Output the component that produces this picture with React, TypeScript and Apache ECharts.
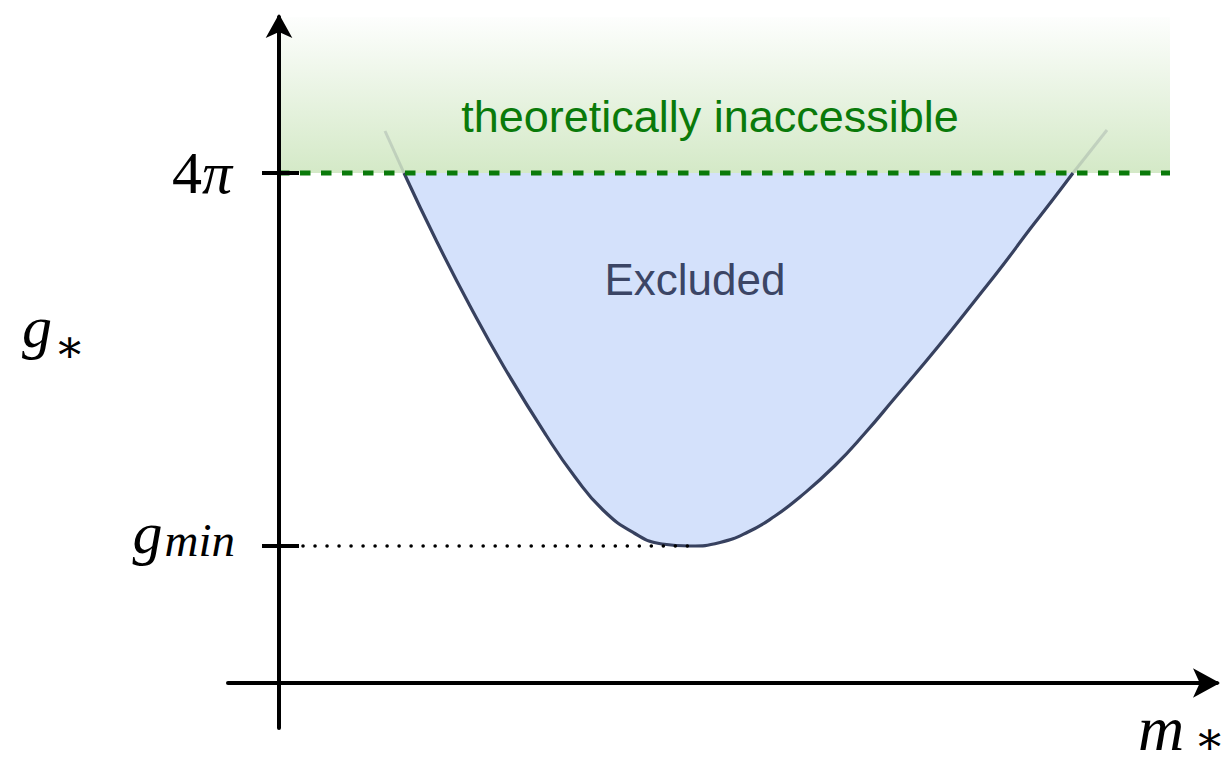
import { useEffect, useRef } from 'react';
import * as echarts from 'echarts';

// Axis extents, in arbitrary units of m_* (x) and g_* (y)
const X_MIN = -0.51;
const X_MAX = 9.38;
const Y_MIN = -0.45;
const Y_MAX = 6.66;

// Perturbative limit 4π, the smallest excluded coupling and where it sits
const G_4PI = 5.1;
const G_MIN = 1.37;
const M_AT_G_MIN = 4.11;
const BAND_END = 8.91;

const TICK_VALUES = [G_4PI, G_MIN];

// Exclusion boundary g_*(m_*) between the two crossings of 4π
const BOUNDARY_M = [1.25, 1.58, 1.91, 2.25, 2.67, 2.96, 3.24, 3.55, 3.83, 4.11, 4.41, 4.69, 4.96, 5.21, 5.56, 5.87, 6.15, 6.43, 6.71, 6.98, 7.24, 7.51, 7.72, 7.94];
const BOUNDARY_G = [5.1, 4.41, 3.77, 3.16, 2.48, 2.06, 1.73, 1.5, 1.39, 1.37, 1.405, 1.51, 1.67, 1.86, 2.175, 2.51, 2.84, 3.17, 3.51, 3.85, 4.18, 4.54, 4.81, 5.1];

// Faint continuation of the boundary above 4π
const LEFT_TAIL_M = [1.06, 1.25];
const LEFT_TAIL_G = [5.52, 5.1];
const RIGHT_TAIL_M = [7.94, 8.28];
const RIGHT_TAIL_G = [5.1, 5.53];

const zip = (xs: number[], ys: number[]) => xs.map((x, i) => [x, ys[i]]);

const MATH_FONT = '"Liberation Serif", "Times New Roman", serif';
const STAR_FONT = '"DejaVu Serif", serif';
const SANS_FONT = '"Liberation Sans", Arial, Helvetica, sans-serif';

const GREEN = '#0a7a0a';
const CURVE = '#37415f';

export default function App() {
  const ref = useRef<HTMLDivElement>(null);

  useEffect(() => {
    if (!ref.current) return;
    const chart = echarts.init(ref.current, null, { renderer: 'svg' });

    const axisCommon = {
      type: 'value' as const,
      z: 10,
      axisTick: { show: false },
      axisLabel: { show: false },
      splitLine: { show: false },
    };

    const mathText = (x: number, y: number, text: string, size: number, italic: boolean, family = MATH_FONT, lineHeight?: number) => ({
      type: 'text',
      x,
      y,
      silent: true,
      style: {
        text,
        align: 'left',
        verticalAlign: 'middle',
        fontSize: size,
        lineHeight: lineHeight ?? size,
        fontFamily: family,
        fontStyle: italic ? 'italic' : 'normal',
        fill: '#000',
      },
    });

    chart.setOption({
      animation: false,
      backgroundColor: '#ffffff',
      grid: { left: 228, right: 9, top: 17, bottom: 37 },
      xAxis: {
        ...axisCommon,
        min: X_MIN,
        max: X_MAX,
        axisLine: {
          onZero: true,
          symbol: ['none', 'arrow'],
          symbolSize: [22, 27],
          symbolOffset: [0, 3],
          lineStyle: { color: '#000', width: 4 },
        },
      },
      yAxis: {
        ...axisCommon,
        min: Y_MIN,
        max: Y_MAX,
        axisLine: {
          onZero: true,
          symbol: ['none', 'arrow'],
          symbolSize: [20, 24],
          symbolOffset: [0, 3],
          lineStyle: { color: '#000', width: 4 },
        },
      },
      series: [
        {
          name: 'excluded',
          type: 'line',
          data: zip(BOUNDARY_M, BOUNDARY_G),
          smooth: 0.5,
          showSymbol: false,
          symbol: 'none',
          silent: true,
          z: 2,
          lineStyle: { color: CURVE, width: 3.2 },
          areaStyle: { color: '#d4e1fb', opacity: 1, origin: G_4PI },
          markArea: {
            silent: true,
            itemStyle: {
              color: new echarts.graphic.LinearGradient(0, 0, 0, 1, [
                { offset: 0, color: '#fdfefd' },
                { offset: 1, color: '#d4e9c7' },
              ]),
            },
            data: [[{ coord: [0, G_4PI] }, { coord: [BAND_END, Y_MAX] }]],
          },
        },
        {
          type: 'line',
          data: zip(LEFT_TAIL_M, LEFT_TAIL_G),
          showSymbol: false,
          symbol: 'none',
          silent: true,
          z: 3,
          lineStyle: { color: 'rgba(55,65,95,0.16)', width: 3 },
        },
        {
          type: 'line',
          data: zip(RIGHT_TAIL_M, RIGHT_TAIL_G),
          showSymbol: false,
          symbol: 'none',
          silent: true,
          z: 3,
          lineStyle: { color: 'rgba(55,65,95,0.16)', width: 3 },
        },
        {
          name: '4pi',
          type: 'line',
          data: [[0, G_4PI], [BAND_END, G_4PI]],
          showSymbol: false,
          symbol: 'none',
          silent: true,
          z: 4,
          lineStyle: { color: GREEN, width: 5, type: [10.5, 10.5] },
        },
        {
          name: 'gmin',
          type: 'line',
          data: [[0, G_MIN], [M_AT_G_MIN, G_MIN]],
          showSymbol: false,
          symbol: 'none',
          silent: true,
          z: 4,
          lineStyle: { color: '#000', width: 3.6, type: [0.01, 12], cap: 'round' },
        },
        {
          name: 'ticks',
          type: 'custom',
          silent: true,
          z: 20,
          data: TICK_VALUES.map((v) => [0, v]),
          renderItem: (params: any, api: any) => {
            const p = api.coord([api.value(0), api.value(1)]);
            const children: any[] = [
              {
                type: 'line',
                shape: { x1: p[0] - 17, y1: p[1], x2: p[0] + 20, y2: p[1] },
                style: { stroke: '#000', lineWidth: 4 },
              },
            ];
            if (params.dataIndex === 0) {
              children.push({
                type: 'text',
                x: p[0] - 47,
                y: p[1],
                style: {
                  text: '{n|4}{p|π}',
                  align: 'right',
                  verticalAlign: 'middle',
                  fontSize: 60,
                  fontFamily: MATH_FONT,
                  fill: '#000',
                  rich: {
                    n: { fontSize: 60, fontFamily: MATH_FONT, fontStyle: 'normal', fill: '#000' },
                    p: { fontSize: 60, fontFamily: MATH_FONT, fontStyle: 'italic', fill: '#000' },
                  },
                },
              });
            } else {
              children.push({
                type: 'text',
                x: p[0] - 44,
                y: p[1] - 13,
                style: {
                  text: '{g|g}{s|min}',
                  align: 'right',
                  verticalAlign: 'middle',
                  fontSize: 60,
                  fontFamily: MATH_FONT,
                  fill: '#000',
                  rich: {
                    g: { fontSize: 60, lineHeight: 60, fontFamily: MATH_FONT, fontStyle: 'italic', fill: '#000', padding: [0, 2, 0, 0] },
                    s: { fontSize: 47, lineHeight: 50, verticalAlign: 'bottom', fontFamily: MATH_FONT, fontStyle: 'italic', fill: '#000' },
                  },
                },
              });
            }
            return { type: 'group', children };
          },
        },
      ],
      graphic: [
        {
          type: 'text',
          x: 710,
          y: 116,
          silent: true,
          z: 30,
          style: {
            text: 'theoretically inaccessible',
            align: 'center',
            verticalAlign: 'middle',
            fontSize: 45,
            fontFamily: SANS_FONT,
            fill: GREEN,
          },
        },
        {
          type: 'text',
          x: 695,
          y: 279,
          silent: true,
          z: 30,
          style: {
            text: 'Excluded',
            align: 'center',
            verticalAlign: 'middle',
            fontSize: 44,
            fontFamily: SANS_FONT,
            fill: '#3b4565',
          },
        },
        mathText(22, 327, 'g', 60, true),
        mathText(54, 346, '∗', 46, false, STAR_FONT, 26),
        mathText(1138, 728, 'm', 64, true, MATH_FONT, 50),
        mathText(1194, 738, '∗', 46, false, STAR_FONT, 26),
      ],
    });

    return () => chart.dispose();
  }, []);

  return (
    <div
      ref={ref}
      style={{ position: 'fixed', left: 0, top: 0, width: 1226, height: 765, background: '#fff' }}
    />
  );
}
